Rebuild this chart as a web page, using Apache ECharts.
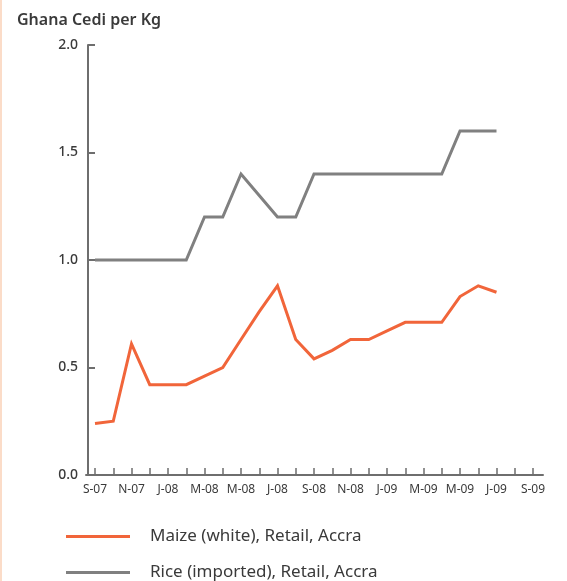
<!DOCTYPE html>
<html>
<head>
<meta charset="utf-8">
<script src="https://cdn.jsdelivr.net/npm/echarts@6/dist/echarts.min.js"></script>
<style>
  html, body { margin: 0; padding: 0; background: #fff; }
  #chart { width: 567px; height: 581px; }
</style>
</head>
<body>
<div id="chart"></div>
<script>
// Monthly retail prices in Accra, Sep 2007 – Sep 2009 (Ghana Cedi per Kg)
const months = [
  'Sep-07','Oct-07','Nov-07','Dec-07','Jan-08','Feb-08','Mar-08','Apr-08','May-08',
  'Jun-08','Jul-08','Aug-08','Sep-08','Oct-08','Nov-08','Dec-08','Jan-09','Feb-09',
  'Mar-09','Apr-09','May-09','Jun-09','Jul-09','Aug-09','Sep-09'
];
const monthLabels = [
  'S-07','O-07','N-07','D-07','J-08','F-08','M-08','A-08','M-08',
  'J-08','J-08','A-08','S-08','O-08','N-08','D-08','J-09','F-09',
  'M-09','A-09','M-09','J-09','J-09','A-09','S-09'
];
const maizeWhite = [
  0.24, 0.25, 0.61, 0.42, 0.42, 0.42, 0.46, 0.50, 0.63, 0.76, 0.88, 0.63,
  0.54, 0.58, 0.63, 0.63, 0.67, 0.71, 0.71, 0.71, 0.83, 0.88, 0.85
];
const riceImported = [
  1.0, 1.0, 1.0, 1.0, 1.0, 1.0, 1.2, 1.2, 1.4, 1.3, 1.2, 1.2,
  1.4, 1.4, 1.4, 1.4, 1.4, 1.4, 1.4, 1.4, 1.6, 1.6, 1.6
];
const yTicks = { min: 0, max: 2, interval: 0.5 };

const orange = '#f1653a';
const grey = '#808080';
const axisGrey = '#6e6e6e';
const textColor = '#3a3a3a';

const chart = echarts.init(document.getElementById('chart'), null, { renderer: 'canvas' });

chart.setOption({
  backgroundColor: '#ffffff',
  animation: false,
  title: {
    text: 'Ghana Cedi per Kg',
    left: 12,
    top: 7,
    textStyle: { fontFamily: 'Noto Sans', fontSize: 16, fontWeight: 600, color: textColor }
  },
  legend: {
    orient: 'vertical',
    left: 66,
    top: 528,
    padding: 0,
    itemWidth: 64,
    itemHeight: 3,
    itemGap: 19,
    icon: 'rect',
    textStyle: { fontFamily: 'Noto Sans', fontSize: 17, color: textColor, padding: [0, 0, 0, 15] },
    data: ['Maize (white), Retail, Accra', 'Rice (imported), Retail, Accra']
  },
  graphic: [
    { type: 'rect', shape: { x: 0, y: 0, width: 2, height: 581 }, style: { fill: '#fbdcc8' }, silent: true }
  ],
  grid: [
    { left: 95, right: 34, top: 45, bottom: 106 },
    { left: 86, right: 24, top: 45, bottom: 106 }
  ],
  xAxis: [
    {
      type: 'category',
      gridIndex: 0,
      data: monthLabels,
      boundaryGap: false,
      axisLine: { show: false },
      axisTick: { show: true, inside: true, length: 7, interval: 0, lineStyle: { color: axisGrey, width: 1.5 } },
      axisLabel: {
        interval: 1,
        margin: 9,
        fontFamily: 'Noto Sans',
        fontSize: 12,
        color: textColor
      },
      splitLine: { show: false }
    },
    {
      type: 'value',
      gridIndex: 1,
      min: 0,
      max: 1,
      axisLine: { show: true, lineStyle: { color: axisGrey, width: 2 } },
      axisTick: { show: false },
      axisLabel: { show: false },
      splitLine: { show: false }
    }
  ],
  yAxis: [
    {
      type: 'value',
      gridIndex: 0,
      min: yTicks.min,
      max: yTicks.max,
      interval: yTicks.interval,
      offset: 7,
      axisLine: { show: true, lineStyle: { color: axisGrey, width: 2 } },
      axisTick: { show: true, inside: true, length: 7, lineStyle: { color: axisGrey, width: 2 } },
      axisLabel: {
        margin: 10,
        fontFamily: 'Noto Sans',
        fontSize: 14,
        fontWeight: 500,
        color: textColor,
        formatter: v => v.toFixed(1)
      },
      splitLine: { show: false }
    },
    {
      type: 'value',
      gridIndex: 1,
      min: 0,
      max: 1,
      show: false
    }
  ],
  series: [
    {
      name: 'Maize (white), Retail, Accra',
      type: 'line',
      xAxisIndex: 0,
      yAxisIndex: 0,
      data: maizeWhite,
      showSymbol: false,
      color: orange,
      lineStyle: { color: orange, width: 3, join: 'miter' }
    },
    {
      name: 'Rice (imported), Retail, Accra',
      type: 'line',
      xAxisIndex: 0,
      yAxisIndex: 0,
      data: riceImported,
      showSymbol: false,
      color: grey,
      lineStyle: { color: grey, width: 3, join: 'miter' }
    }
  ]
});
</script>
</body>
</html>
